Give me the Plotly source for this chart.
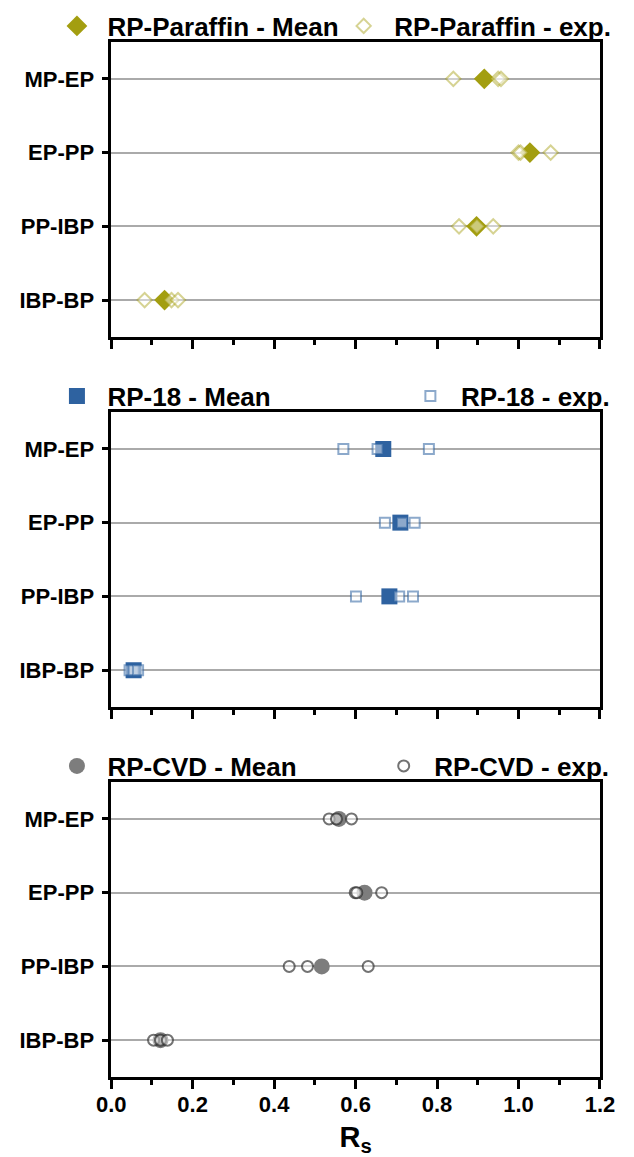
import plotly.graph_objects as go

pairs = ["MP-EP", "EP-PP", "PP-IBP", "IBP-BP"]

# RP-Paraffin
paraffin_mean = [0.916, 1.028, 0.897, 0.131]
paraffin_exp = [[0.840, 0.950, 0.957], [1.000, 1.005, 1.079], [0.854, 0.898, 0.938], [0.082, 0.148, 0.164]]
# RP-18
rp18_mean = [0.668, 0.710, 0.683, 0.055]
rp18_exp = [[0.570, 0.654, 0.780], [0.672, 0.714, 0.745], [0.601, 0.707, 0.741], [0.045, 0.055, 0.066]]
# RP-CVD
cvd_mean = [0.559, 0.622, 0.517, 0.121]
cvd_exp = [[0.535, 0.553, 0.590], [0.599, 0.603, 0.664], [0.437, 0.482, 0.631], [0.104, 0.121, 0.138]]

x_ticks = [0.0, 0.2, 0.4, 0.6, 0.8, 1.0, 1.2]
x_ticktext = ["0.0", "0.2", "0.4", "0.6", "0.8", "1.0", "1.2"]

W, H = 634, 1157
FONT = "Liberation Sans, Arial, sans-serif"
ITEMW = 51  # symbol centre at (ITEMW+10)/2, text at ITEMW+10

panels = [
    dict(name="RP-Paraffin", mean=paraffin_mean, exp=paraffin_exp, sym="diamond", msize=16, esize=11,
         mcolor="rgb(163,158,16)", ecolor="rgba(163,158,16,0.45)", top=42, bottom=337,
         leg_mean_x=33, leg_exp_x=334, leg_y=26),
    dict(name="RP-18", mean=rp18_mean, exp=rp18_exp, sym="square", msize=16, esize=10,
         mcolor="rgb(46,98,160)", ecolor="rgba(46,98,160,0.55)", top=412, bottom=707,
         leg_mean_x=33, leg_exp_x=404, leg_y=396),
    dict(name="RP-CVD", mean=cvd_mean, exp=cvd_exp, sym="circle", msize=16, esize=11,
         mcolor="rgb(125,125,125)", ecolor="rgba(40,40,40,0.65)", top=782, bottom=1077,
         leg_mean_x=33, leg_exp_x=376, leg_y=766),
]

fig = go.Figure()
layout = dict(width=W, height=H, margin=dict(l=0, r=0, t=0, b=0),
              paper_bgcolor="white", plot_bgcolor="white",
              font=dict(family=FONT, color="black"), showlegend=True)

x0, x1 = 101 / W, 614 / W
for i, p in enumerate(panels):
    k = "" if i == 0 else str(i + 1)
    xa, ya = "x" + k, "y" + k
    lg_m = "legend" if i == 0 else "legend" + str(2 * i + 1)
    lg_e = "legend" + str(2 * i + 2)
    fig.add_trace(go.Scatter(
        x=p["mean"], y=pairs, mode="markers", xaxis=xa, yaxis=ya,
        name=p["name"] + " - Mean", legend=lg_m,
        marker=dict(symbol=p["sym"], size=p["msize"], color=p["mcolor"], line=dict(width=0)),
    ))
    ex, ey = [], []
    for cat, vals in zip(pairs, p["exp"]):
        for v in vals:
            ex.append(v)
            ey.append(cat)
    fig.add_trace(go.Scatter(
        x=ex, y=ey, mode="markers", xaxis=xa, yaxis=ya,
        name=p["name"] + " - exp.", legend=lg_e,
        marker=dict(symbol=p["sym"], size=p["esize"], color="rgba(255,255,255,0.45)",
                    line=dict(width=2, color=p["ecolor"])),
    ))
    yd = [1 - p["bottom"] / H, 1 - p["top"] / H]
    xaxis = dict(
        domain=[x0, x1], anchor=ya, range=[0, 1.2], tickvals=x_ticks,
        showticklabels=(i == 2),
        ticks="outside", ticklen=9, tickwidth=2.5, tickcolor="black",
        minor=dict(dtick=0.1, ticks="outside", ticklen=5, tickwidth=2.5, tickcolor="black", showgrid=False),
        showline=True, linewidth=2.5, linecolor="black", mirror=True,
        showgrid=False, zeroline=False,
        tickfont=dict(size=22, family=FONT, weight="bold"),
    )
    if i == 2:
        xaxis["ticktext"] = x_ticktext
        xaxis["ticklabelstandoff"] = -3
        xaxis["title"] = dict(text="R<sub>s</sub>", font=dict(size=29, family=FONT, weight="bold"), standoff=11)
    layout["xaxis" + k] = xaxis
    layout["yaxis" + k] = dict(
        domain=yd, anchor=xa, type="category", categoryorder="array", categoryarray=pairs,
        range=[3.5, -0.5], ticks="outside", ticklen=6, tickwidth=2.5, tickcolor="black",
        showline=True, linewidth=2.5, linecolor="black", mirror=True,
        showgrid=True, gridcolor="rgb(170,170,170)", gridwidth=1.5, zeroline=False,
        tickfont=dict(size=22, family=FONT, weight="bold"), ticklabelstandoff=4,
    )
    legfont = dict(size=26, family=FONT, weight="bold", color="black")
    for lg, lx in ((lg_m, p["leg_mean_x"]), (lg_e, p["leg_exp_x"])):
        layout[lg] = dict(x=lx / W, xanchor="left", y=1 - p["leg_y"] / H, yanchor="middle",
                          xref="paper", yref="paper", font=legfont, bgcolor="rgba(0,0,0,0)",
                          borderwidth=0, itemwidth=ITEMW, orientation="h")

fig.update_layout(**layout)
fig.write_html("out.html")
